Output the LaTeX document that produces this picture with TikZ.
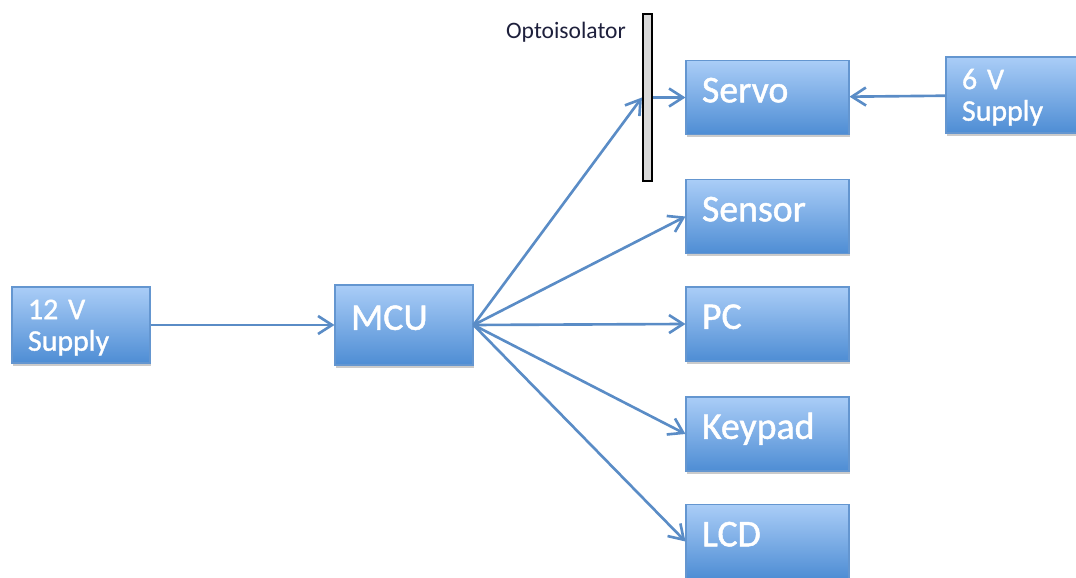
\documentclass[tikz,border=0pt]{standalone}
\usepackage{fontspec}
\setmainfont{Carlito}
\newfontfamily\boxfont[FakeBold=1.2]{Carlito}
\usetikzlibrary{arrows.meta,shadows}
\definecolor{boxtop}{RGB}{170,205,247}
\definecolor{boxbot}{RGB}{78,141,212}
\definecolor{boxline}{RGB}{100,150,208}
\definecolor{wire}{RGB}{90,140,198}
\definecolor{lblcol}{RGB}{30,32,60}

\begin{document}
\begin{tikzpicture}[font=\boxfont\fontsize{21.5}{23}\selectfont,
  blk/.style={draw=boxline, line width=0.6pt, top color=boxtop, bottom color=boxbot,
    text=white, align=left, inner xsep=0.32cm,
    drop shadow={shadow xshift=0.4pt, shadow yshift=-1.6pt, fill=black!45, opacity=0.45}},
  onel/.style={text height=0.7em, text depth=0.15em},
  smalltxt/.style={font=\boxfont\fontsize{17}{18}\selectfont, text height=1.4em},
  wr/.style={draw=wire, line width=1.5pt, -{Straight Barb[length=2.8mm,width=3.6mm]}}]

\useasboundingbox (0,0) rectangle (21.52,-11.56);

% Supply and MCU

\node[blk, smalltxt, text width=2.12cm, minimum height=1.52cm] (sup12) at (1.62,-6.5) {12 V\\Supply};
\node[blk, onel, text width=2.12cm, minimum height=1.6cm] (mcu) at (8.08,-6.5) {MCU};
\draw[wr] (sup12) -- (mcu);

% Peripherals

\foreach \nm/\txt/\y in {servo/Servo/-1.95, sensor/Sensor/-4.33, pc/PC/-6.48, keypad/Keypad/-8.68, lcd/LCD/-10.83}
{
\node[blk, onel, text width=2.62cm, minimum height=1.48cm] (\nm) at (15.35,\y) {\txt};
}

\foreach \nm in {sensor, pc, keypad, lcd}
{
\draw[wr] (mcu.east) -- (\nm.west);
}

% Optoisolator

\node[draw=black, line width=1.2pt, fill=black!15, minimum width=0.18cm, minimum height=3.34cm, inner sep=0pt] (opto) at (12.95,-1.95) {};
\node[font=\fontsize{13.4}{15}\selectfont, text=lblcol] (optolbl) at (11.32,-0.64) {Optoisolator};
\draw[wr] (mcu.east) -- (opto.west);
\draw[wr] (opto.east) -- (servo.west);

% Servo supply

\node[blk, smalltxt, text width=2.26cm, minimum height=1.52cm] (sup6) at (20.37,-1.9) {6 V\\Supply};
\draw[wr] (sup6) -- (servo);

\end{tikzpicture}
\end{document}
